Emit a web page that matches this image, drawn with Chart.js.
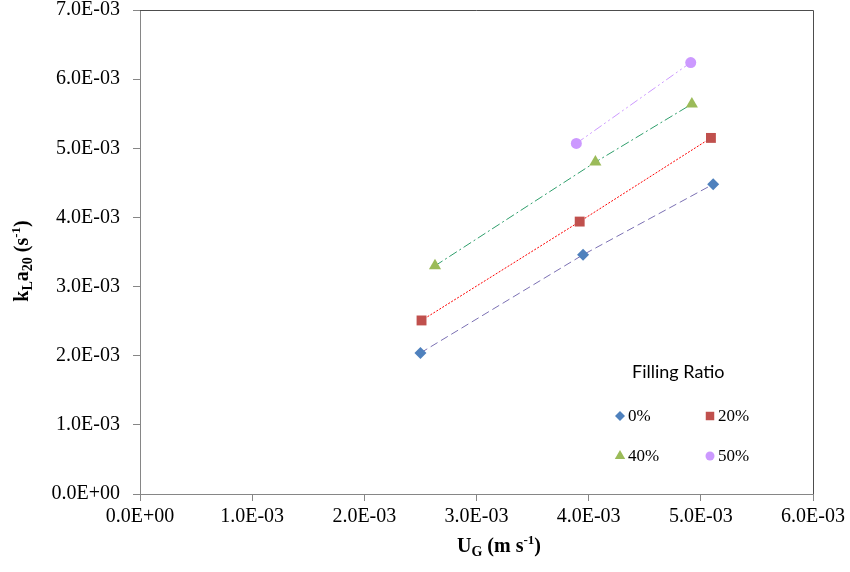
<!DOCTYPE html>
<html>
<head>
<meta charset="utf-8">
<script src="https://cdn.jsdelivr.net/npm/chart.js@4.4.1/dist/chart.umd.min.js"></script>
<style>
html, body { margin: 0; padding: 0; background: #ffffff; }
#kla_wrap { position: relative; width: 850px; height: 572px; }
</style>
</head>
<body>
<div id="kla_wrap"><canvas id="kla_chart" width="850" height="572"></canvas></div>
<script>
// values (U_G in m/s, kLa20 in 1/s)
const series_names = ['0%', '20%', '40%', '50%'];

const ug_0 = [2.50e-3, 3.95e-3, 5.11e-3];
const kla_0 = [2.04e-3, 3.46e-3, 4.48e-3];

const ug_20 = [2.51e-3, 3.92e-3, 5.09e-3];
const kla_20 = [2.51e-3, 3.94e-3, 5.15e-3];

const ug_40 = [2.63e-3, 4.06e-3, 4.92e-3];
const kla_40 = [3.30e-3, 4.80e-3, 5.64e-3];

const ug_50 = [3.89e-3, 4.91e-3];
const kla_50 = [5.07e-3, 6.24e-3];

const x_ticks = [0, 1e-3, 2e-3, 3e-3, 4e-3, 5e-3, 6e-3];
const y_ticks = [0, 1e-3, 2e-3, 3e-3, 4e-3, 5e-3, 6e-3, 7e-3];

const kla_palette = {
    blue: '#4f81bd',
    red: '#c0504d',
    green: '#9bbb59',
    purple: '#cc99ff',
    line_blue: '#7b70b3',
    line_red: '#ff0000',
    line_green: '#2e9e6b',
    line_purple: '#cc99ff',
    axis: '#868686',
    frame: '#4d4d4d',
};

function kla_points(xs, ys) {
    return xs.map((x, i) => ({ x: x, y: ys[i] }));
}

function sci_label(v) {
    if (Math.abs(v) < 1e-12) {
        return '0.0E+00';
    }
    const parts = v.toExponential(1).split('e');
    const exp = Number(parts[1]);
    const sign = exp < 0 ? '-' : '+';
    return parts[0] + 'E' + sign + String(Math.abs(exp)).padStart(2, '0');
}

function kla_dataset(label, xs, ys, marker, style, radius, line_color, dash) {
    return {
        label: label,
        data: kla_points(xs, ys),
        showLine: true,
        fill: false,
        borderColor: line_color,
        borderWidth: 1,
        borderDash: dash,
        pointStyle: style,
        pointRadius: radius,
        pointHoverRadius: radius,
        pointBackgroundColor: marker,
        pointBorderColor: marker,
        pointBorderWidth: 0,
        marker_color: marker,
        legend_radius: radius - 1,
    };
}

// rich text: [text, size, shift] pieces, centred on x
function draw_rich(ctx, pieces, x, y) {
    let total = 0;
    pieces.forEach((p) => {
        ctx.font = 'bold ' + p[1] + 'px "Liberation Serif"';
        total += ctx.measureText(p[0]).width;
    });
    let cx = x - total / 2;
    pieces.forEach((p) => {
        ctx.font = 'bold ' + p[1] + 'px "Liberation Serif"';
        ctx.fillText(p[0], cx, y + p[2]);
        cx += ctx.measureText(p[0]).width;
    });
}

const kla_frame_plugin = {
    id: 'kla_frame',
    beforeDatasetsDraw(chart) {
        const a = chart.chartArea;
        const ctx = chart.ctx;
        ctx.save();
        ctx.strokeStyle = kla_palette.frame;
        ctx.lineWidth = 1;
        ctx.beginPath();
        ctx.moveTo(a.left, a.top + 0.5);
        ctx.lineTo(a.right + 0.5, a.top + 0.5);
        ctx.lineTo(a.right + 0.5, a.bottom);
        ctx.stroke();
        ctx.restore();
    },
};

const kla_text_plugin = {
    id: 'kla_text',
    afterDatasetsDraw(chart) {
        const ctx = chart.ctx;
        ctx.save();
        ctx.fillStyle = '#000000';
        ctx.textBaseline = 'alphabetic';
        ctx.textAlign = 'left';

        // x title
        draw_rich(ctx, [['U', 20, 0], ['G', 14, 4], [' (m s', 20, 0], ['-1', 13, -8], [')', 20, 0]], 499, 552);

        // y title
        ctx.save();
        ctx.translate(28, 261);
        ctx.rotate(-Math.PI / 2);
        draw_rich(ctx, [['k', 20, 0], ['L', 14, 4], ['a', 20, 0], ['20', 14, 4], [' (s', 20, 0], ['-1', 13, -8], [')', 20, 0]], 0, 0);
        ctx.restore();

        // legend
        ctx.textBaseline = 'middle';
        ctx.font = '18px Lato';
        ctx.fillText('Filling Ratio', 632, 372);
        const slots = [[620, 416], [710, 416], [620, 456], [710, 456]];
        ctx.font = '17px "Liberation Serif"';
        chart.data.datasets.forEach((ds, i) => {
            const s = slots[i];
            ctx.fillStyle = ds.marker_color;
            Chart.helpers.drawPoint(ctx, { pointStyle: ds.pointStyle, radius: ds.legend_radius, borderWidth: 0, rotation: 0 }, s[0], s[1]);
            ctx.fillStyle = '#000000';
            ctx.fillText(ds.label, s[0] + 8, s[1] + 1);
        });
        ctx.restore();
    },
};

function kla_axis(min, max, ticks_list, extra) {
    return Object.assign({
        type: 'linear',
        min: min,
        max: max,
        afterBuildTicks: (scale) => {
            scale.ticks = ticks_list.map((v) => ({ value: v }));
        },
        border: { display: true, color: kla_palette.axis, width: 1 },
        grid: {
            drawOnChartArea: false,
            drawTicks: true,
            tickLength: 7,
            tickColor: kla_palette.axis,
        },
        ticks: {
            color: '#000000',
            font: { family: '"Liberation Serif"', size: 20, lineHeight: 1 },
            callback: (v) => sci_label(v),
        },
    }, extra);
}

const x_axis = kla_axis(0, 6e-3, x_ticks, {
    afterFit: (scale) => {
        scale.height = 78;
        scale.paddingLeft = 0;
        scale.paddingRight = 0;
    },
});
x_axis.ticks.padding = 6;
x_axis.ticks.maxRotation = 0;

const y_axis = kla_axis(0, 7e-3, y_ticks, {
    afterFit: (scale) => {
        scale.width = 140;
        scale.paddingTop = 0;
        scale.paddingBottom = 0;
    },
});
y_axis.ticks.padding = 13;

new Chart(document.getElementById('kla_chart').getContext('2d'), {
    type: 'scatter',
    data: {
        datasets: [
            kla_dataset(series_names[0], ug_0, kla_0, kla_palette.blue, 'rectRot', 6, kla_palette.line_blue, [8, 4]),
            kla_dataset(series_names[1], ug_20, kla_20, kla_palette.red, 'rect', 7, kla_palette.line_red, [2, 1.5]),
            kla_dataset(series_names[2], ug_40, kla_40, kla_palette.green, 'triangle', 7, kla_palette.line_green, [9, 3, 2, 3]),
            kla_dataset(series_names[3], ug_50, kla_50, kla_palette.purple, 'circle', 5.5, kla_palette.line_purple, [9, 3, 2, 3, 2, 3]),
        ],
    },
    options: {
        responsive: false,
        animation: false,
        layout: { padding: { left: 0, right: 37, top: 10, bottom: 0 } },
        plugins: {
            legend: { display: false },
            tooltip: { enabled: false },
        },
        scales: { x: x_axis, y: y_axis },
    },
    plugins: [kla_frame_plugin, kla_text_plugin],
});
</script>
</body>
</html>
